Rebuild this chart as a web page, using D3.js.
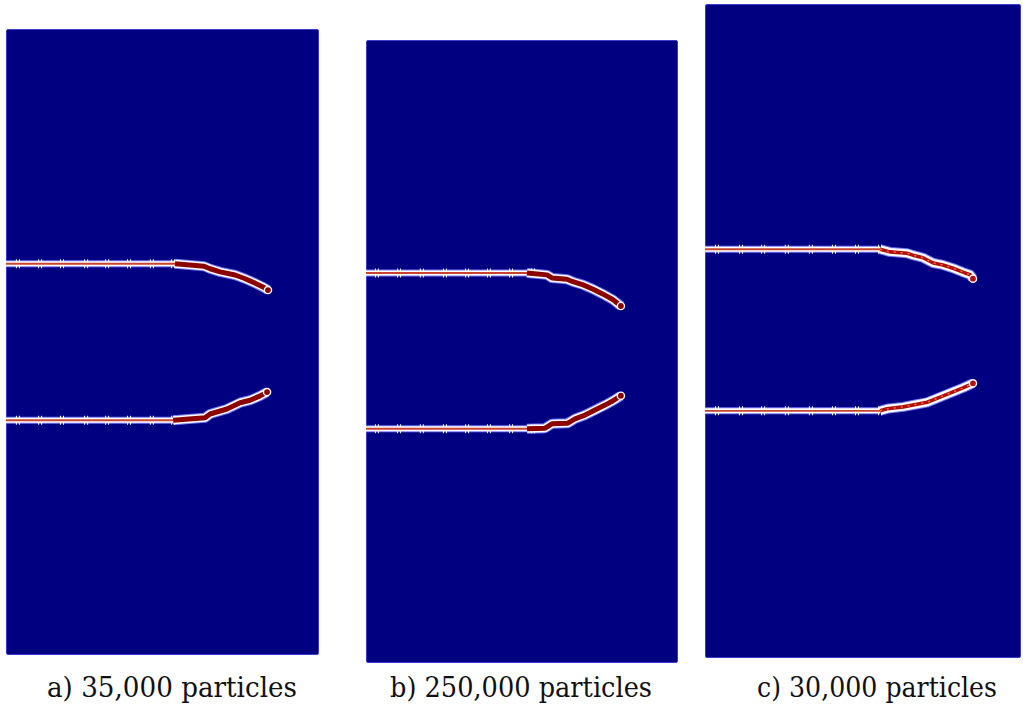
<!DOCTYPE html>
<html>
<head>
<meta charset="utf-8">
<script src="https://cdn.jsdelivr.net/npm/d3@7"></script>
<style>
  html, body { margin: 0; padding: 0; background: #ffffff; }
  svg { display: block; }
</style>
</head>
<body>
<svg id="fig" width="1023" height="718"></svg>
<script>
// Crack paths in specimen coordinates: x = fraction of width from the left edge,
// y = fraction of height from the top edge. Point 0..1 is the initial notch,
// the rest is the propagated (damaged) crack.
const panelIds = ["a", "b", "c"];
const panelLabels = ["a) 35,000 particles", "b) 250,000 particles", "c) 30,000 particles"];

const upperCrackA = [[0, 0.375], [0.540, 0.375], [0.633, 0.379], [0.652, 0.383], [0.684, 0.388],
  [0.732, 0.393], [0.764, 0.399], [0.796, 0.406], [0.821, 0.412], [0.837, 0.417]];
const lowerCrackA = [[0, 0.625], [0.534, 0.625], [0.636, 0.621], [0.652, 0.615], [0.706, 0.607],
  [0.748, 0.597], [0.780, 0.593], [0.812, 0.586], [0.834, 0.580]];

const upperCrackB = [[0, 0.374], [0.516, 0.374], [0.580, 0.377], [0.596, 0.382], [0.644, 0.384],
  [0.663, 0.388], [0.696, 0.393], [0.728, 0.400], [0.760, 0.408], [0.792, 0.417], [0.817, 0.427]];
const lowerCrackB = [[0, 0.624], [0.516, 0.624], [0.574, 0.623], [0.596, 0.616], [0.647, 0.615],
  [0.670, 0.608], [0.702, 0.602], [0.734, 0.594], [0.766, 0.586], [0.792, 0.579], [0.817, 0.571]];

const upperCrackC = [[0, 0.375], [0.554, 0.375], [0.585, 0.379], [0.639, 0.381], [0.658, 0.384],
  [0.690, 0.388], [0.722, 0.396], [0.753, 0.399], [0.785, 0.404], [0.816, 0.410], [0.839, 0.414], [0.848, 0.420]];
const lowerCrackC = [[0, 0.622], [0.554, 0.622], [0.576, 0.619], [0.627, 0.616], [0.671, 0.612],
  [0.703, 0.609], [0.744, 0.601], [0.785, 0.593], [0.816, 0.587], [0.848, 0.580]];

// Particle rows crossing the notch (x fractions)
const notchTicksA = [0.038, 0.109, 0.179, 0.256, 0.323, 0.393, 0.466, 0.534];
const notchTicksB = [0.035, 0.106, 0.179, 0.253, 0.324, 0.394, 0.465, 0.535];
const notchTicksC = [0.038, 0.114, 0.184, 0.259, 0.335, 0.408, 0.481, 0.554];

const cracks = { a: [upperCrackA, lowerCrackA], b: [upperCrackB, lowerCrackB], c: [upperCrackC, lowerCrackC] };
const ticks = { a: notchTicksA, b: notchTicksB, c: notchTicksC };

// Page layout (pixels)
const layout = {
  a: { x: 6, y: 29, w: 313, h: 626, labelX: 172, damageColor: "#8b0000", damageWidth: 5 },
  b: { x: 366, y: 40, w: 312, h: 623, labelX: 521, damageColor: "#8b0000", damageWidth: 5 },
  c: { x: 705, y: 4, w: 316, h: 654, labelX: 877, damageColor: "#b01010", damageWidth: 3.6 }
};
const labelWidths = { a: 250, b: 262, c: 240 };
const labelBaseline = 697;

const svg = d3.select("#fig");

panelIds.forEach((id, i) => {
  const L = layout[id];
  const x = d3.scaleLinear().domain([0, 1]).range([L.x, L.x + L.w]);
  const y = d3.scaleLinear().domain([0, 1]).range([L.y, L.y + L.h]);
  const line = d3.line().x(d => x(d[0])).y(d => y(d[1]));

  const g = svg.append("g").attr("class", "panel-" + id);

  // specimen
  g.append("rect")
    .attr("x", x(0) + 0.5).attr("y", y(0) + 0.5)
    .attr("width", x(1) - x(0) - 1).attr("height", y(1) - y(0) - 1)
    .attr("rx", 1.5)
    .attr("fill", "#000080")
    .attr("stroke", "#3a3ad0").attr("stroke-width", 1);

  cracks[id].forEach(pts => {
    const notch = pts.slice(0, 2);
    const damaged = pts.slice(1);

    // light halo around the whole crack
    g.append("path").attr("d", line(notch)).attr("fill", "none")
      .attr("stroke", "#7a7aff").attr("stroke-width", 7);
    g.append("path").attr("d", line(damaged)).attr("fill", "none")
      .attr("stroke", "#7a7aff").attr("stroke-width", 10).attr("stroke-linejoin", "round");
    g.append("path").attr("d", line(notch)).attr("fill", "none")
      .attr("stroke", "#ffffff").attr("stroke-width", 5);
    g.append("path").attr("d", line(damaged)).attr("fill", "none")
      .attr("stroke", "#ffffff").attr("stroke-width", 8).attr("stroke-linejoin", "round");

    // particle rows crossing the notch
    ticks[id].forEach(t => {
      [-1.5, 1.5].forEach(dx => {
        g.append("line")
          .attr("x1", x(t) + dx).attr("x2", x(t) + dx)
          .attr("y1", y(notch[0][1]) - 4.5).attr("y2", y(notch[0][1]) + 4.5)
          .attr("stroke", "#ffffff").attr("stroke-width", 1);
      });
    });

    // notch core
    g.append("path").attr("d", line(notch)).attr("fill", "none")
      .attr("stroke", "#c8442e").attr("stroke-width", 1.8);

    // damaged band
    g.append("path").attr("d", line(damaged)).attr("fill", "none")
      .attr("stroke", L.damageColor).attr("stroke-width", L.damageWidth)
      .attr("stroke-linejoin", "round");
    if (id === "c") {
      g.append("path").attr("d", line(damaged)).attr("fill", "none")
        .attr("stroke", "#ff6a30").attr("stroke-width", 1.4)
        .attr("stroke-dasharray", "2 5");
    }

    // crack tip
    const tip = pts[pts.length - 1];
    g.append("circle").attr("cx", x(tip[0])).attr("cy", y(tip[1])).attr("r", 3.6)
      .attr("fill", L.damageColor).attr("stroke", "#ffffff").attr("stroke-width", 1.4);
  });

  // caption
  svg.append("text")
    .attr("x", L.labelX).attr("y", labelBaseline)
    .attr("text-anchor", "middle")
    .style("font-family", "'DejaVu Serif'")
    .attr("font-size", 28)
    .attr("fill", "#111111")
    .attr("textLength", labelWidths[id])
    .attr("lengthAdjust", "spacingAndGlyphs")
    .text(panelLabels[i]);
});
</script>
</body>
</html>
